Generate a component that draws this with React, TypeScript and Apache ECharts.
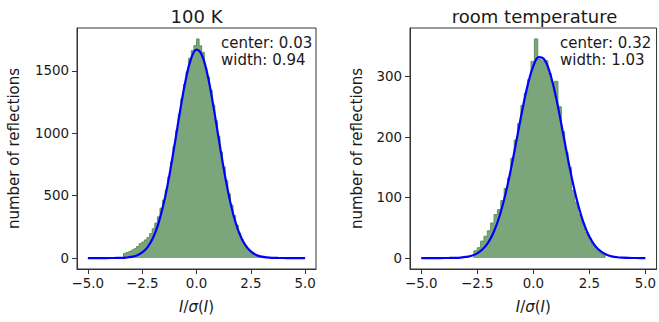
import React, { useEffect, useRef } from "react";
import * as echarts from "echarts";

// ---- data ----
const xTicks = [-5, -2.5, 0, 2.5, 5];
const leftYTicks = [0, 500, 1000, 1500];
const rightYTicks = [0, 100, 200, 300];

const leftTitle = "100 K";
const rightTitle = "room temperature";
const leftNote = ["center: 0.03", "width: 0.94"];
const rightNote = ["center: 0.32", "width: 1.03"];
const yName = "number of reflections";

// histogram, 100 K
const leftBinStart = -3.36;
const leftBinWidth = 0.12;
const leftCounts = [
  38, 45, 52, 64, 75, 92, 115, 128, 145, 165,
  195, 235, 280, 330, 400, 465, 545, 650, 770, 895,
  1020, 1150, 1275, 1390, 1490, 1600, 1662, 1702, 1755, 1700,
  1648, 1520, 1450, 1345, 1225, 1100, 975, 850, 730, 620,
  515, 425, 340, 265, 200, 148, 105, 75, 52, 38,
  27, 18, 12, 8,
];

// histogram, room temperature
const rightBinStart = -2.65;
const rightBinWidth = 0.15;
const rightCounts = [
  12, 17, 28, 36, 45, 58, 72, 80, 95, 115,
  132, 165, 195, 222, 252, 272, 295, 325, 362, 328,
  326, 326, 305, 290, 292, 250, 209, 175, 150, 112,
  92, 72, 58, 42, 32, 22, 15, 10, 6,
];

// fitted curves
const fitX = [
  -5, -4.75, -4.5, -4.25, -4, -3.75, -3.5, -3.25, -3, -2.75,
  -2.5, -2.25, -2, -1.75, -1.5, -1.25, -1, -0.75, -0.5, -0.25,
  0, 0.25, 0.5, 0.75, 1, 1.25, 1.5, 1.75, 2, 2.25,
  2.5, 2.75, 3, 3.25, 3.5, 3.75, 4, 4.25, 4.5, 4.75, 5,
];
const leftFit = [
  0, 0, 0, 0, 0.2, 0.5, 1.5, 3.8, 9, 21,
  45, 88, 162, 278, 444, 661, 916, 1184, 1424, 1597,
  1669, 1625, 1474, 1245, 981, 719, 492, 313, 186, 103,
  53, 25, 11, 4.7, 1.8, 0.7, 0.2, 0, 0, 0, 0,
];
const rightFit = [
  0, 0, 0, 0, 0.05, 0.14, 0.34, 0.8, 1.85, 3.9,
  7.8, 14.8, 26.3, 44.2, 69.9, 104, 146.5, 194, 242.5, 285.7,
  317, 332, 328, 305, 268, 221.5, 172.8, 127, 88, 57.5,
  35.5, 20.6, 11.3, 5.8, 2.8, 1.3, 0.6, 0.23, 0.09, 0.03, 0,
];

// ---- helpers ----
function stepData(start: number, width: number, counts: number[]) {
  const pts: number[][] = [[start, 0]];
  counts.forEach((c, i) => pts.push([start + i * width, c]));
  const end = start + counts.length * width;
  pts.push([end, counts[counts.length - 1]]);
  pts.push([end, 0]);
  return pts;
}

const FONT = "DejaVu Sans";
const TXT = "#1a1a1a";
const AX = "#333";
const fmtX = (v: number) => v.toFixed(1).replace("-", "\u2212");
const fmtY = (v: number) => String(Math.round(v));

function xAxisFor(gridIndex: number) {
  return {
    type: "value",
    gridIndex,
    min: -5.5,
    max: 5.5,
    splitLine: { show: false },
    axisLine: { show: true, onZero: false, lineStyle: { color: AX, width: 1 } },
    axisTick: { show: true, customValues: xTicks, length: 5, lineStyle: { color: AX, width: 1 } },
    axisLabel: {
      customValues: xTicks,
      formatter: fmtX,
      fontSize: 13.4,
      fontFamily: FONT,
      color: TXT,
      margin: 8,
    },
    name: "{i|I}/{i|σ}({i|I})",
    nameLocation: "middle",
    nameGap: 30,
    nameTextStyle: {
      fontSize: 15,
      fontFamily: FONT,
      color: TXT,
      rich: { i: { fontStyle: "italic", fontSize: 15, fontFamily: FONT, color: TXT } },
    },
  };
}

function yAxisFor(gridIndex: number, ticks: number[], maxCount: number, nameGap: number) {
  return {
    type: "value",
    gridIndex,
    min: -0.05 * maxCount,
    max: 1.05 * maxCount,
    splitLine: { show: false },
    axisLine: { show: true, onZero: false, lineStyle: { color: AX, width: 1 } },
    axisTick: { show: true, customValues: ticks, length: 5, lineStyle: { color: AX, width: 1 } },
    axisLabel: {
      customValues: ticks,
      formatter: fmtY,
      fontSize: 13.4,
      fontFamily: FONT,
      color: TXT,
      margin: 8,
    },
    name: yName,
    nameLocation: "middle",
    nameGap,
    nameTextStyle: { fontSize: 15, fontFamily: FONT, color: TXT },
  };
}

export default function App() {
  const ref = useRef<HTMLDivElement>(null);

  useEffect(() => {
    if (!ref.current) return;
    const chart = echarts.init(ref.current, null, { renderer: "svg" });
    const leftMax = Math.max(...leftCounts);
    const rightMax = Math.max(...rightCounts);

    const histStyle = {
      type: "line",
      step: "end",
      symbol: "none",
      lineStyle: { color: "#5f925f", width: 1 },
      areaStyle: { color: "#7ba67b", opacity: 1 },
      z: 2,
    };
    const fitStyle = {
      type: "line",
      symbol: "none",
      smooth: 0.4,
      lineStyle: { color: "#0000ff", width: 2.2 },
      z: 3,
    };

    chart.setOption({
      animation: false,
      grid: [
        { left: 77, top: 28, width: 239, height: 241, show: true, borderColor: AX, borderWidth: 1, backgroundColor: "transparent" },
        { left: 410, top: 28, width: 248.5, height: 241, show: true, borderColor: AX, borderWidth: 1, backgroundColor: "transparent" },
      ],
      xAxis: [xAxisFor(0), xAxisFor(1)],
      yAxis: [
        yAxisFor(0, leftYTicks, leftMax, 56),
        yAxisFor(1, rightYTicks, rightMax, 46),
      ],
      series: [
        { ...histStyle, xAxisIndex: 0, yAxisIndex: 0, data: stepData(leftBinStart, leftBinWidth, leftCounts) },
        { ...fitStyle, xAxisIndex: 0, yAxisIndex: 0, data: fitX.map((x, i) => [x, leftFit[i]]) },
        { ...histStyle, xAxisIndex: 1, yAxisIndex: 1, data: stepData(rightBinStart, rightBinWidth, rightCounts) },
        { ...fitStyle, xAxisIndex: 1, yAxisIndex: 1, data: fitX.map((x, i) => [x, rightFit[i]]) },
      ],
      graphic: [
        { type: "text", x: 196.5, y: 16, style: { text: leftTitle, align: "center", verticalAlign: "middle", fontSize: 18, fontFamily: FONT, fill: TXT } },
        { type: "text", x: 534.5, y: 16, style: { text: rightTitle, align: "center", verticalAlign: "middle", fontSize: 18, fontFamily: FONT, fill: TXT } },
        { type: "text", x: 221, y: 43, z: 10, style: { text: leftNote[0], align: "left", verticalAlign: "middle", fontSize: 15, fontFamily: FONT, fill: TXT } },
        { type: "text", x: 221, y: 60, z: 10, style: { text: leftNote[1], align: "left", verticalAlign: "middle", fontSize: 15, fontFamily: FONT, fill: TXT } },
        { type: "text", x: 560, y: 42.5, z: 10, style: { text: rightNote[0], align: "left", verticalAlign: "middle", fontSize: 15, fontFamily: FONT, fill: TXT } },
        { type: "text", x: 560, y: 59.5, z: 10, style: { text: rightNote[1], align: "left", verticalAlign: "middle", fontSize: 15, fontFamily: FONT, fill: TXT } },
      ],
    });
    return () => chart.dispose();
  }, []);

  return (
    <div
      ref={ref}
      style={{ position: "absolute", left: 0, top: 0, width: 659, height: 322, background: "#fff" }}
    />
  );
}
